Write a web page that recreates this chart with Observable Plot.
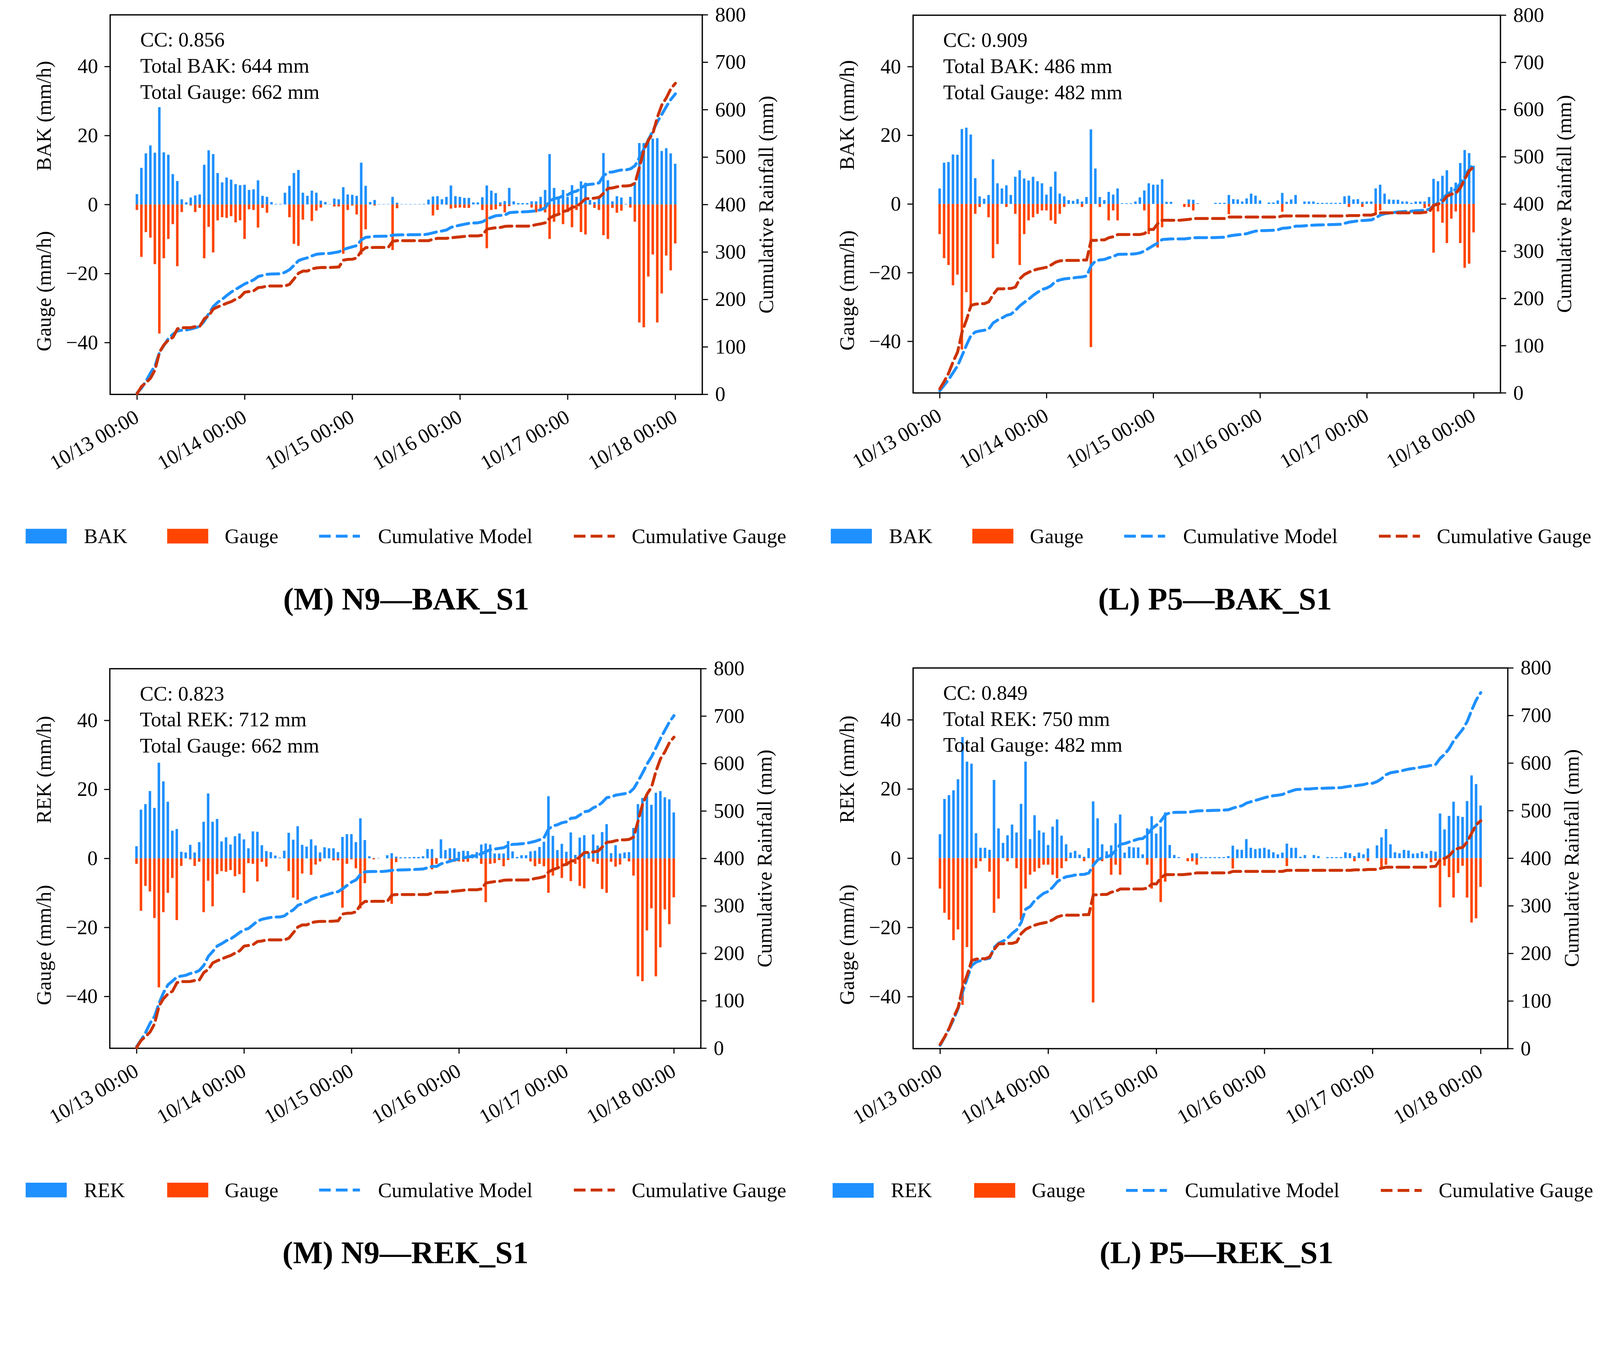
<!DOCTYPE html>
<html>
<head>
<meta charset="utf-8">
<script src="https://cdn.jsdelivr.net/npm/d3@7"></script>
<script src="https://cdn.jsdelivr.net/npm/@observablehq/plot@0.6"></script>
<style>
  html, body { margin: 0; padding: 0; background: #fff; overflow: hidden; }
  #page { width: 4364px; height: 3491px; position: relative; overflow: hidden; transform-origin: 0 0;
          font-family: "Liberation Serif", "DejaVu Serif", serif; color: #000; background: #fff; }
  .abs { position: absolute; white-space: nowrap; }
  .panel { position: absolute; }
  .panel svg { position: absolute; left: 0; top: 0; max-width: none !important; }
</style>
</head>
<body>
<div id="page"></div>
<script>
// ---------------- DATA ----------------
const hours = d3.range(0, 121);                 // hourly steps, 10/13 00:00 .. 10/18 00:00
const dayTicks = [0, 24, 48, 72, 96, 120];
const dayLabels = ["10/13 00:00", "10/14 00:00", "10/15 00:00", "10/16 00:00", "10/17 00:00", "10/18 00:00"];
const leftTicks = [-40, -20, 0, 20, 40];
const rightTicks = [0, 100, 200, 300, 400, 500, 600, 700, 800];

// N9 gauge (mm/h)
const n9Gauge = [
  1.6, 15.2, 8.0, 9.6, 17.3, 37.4, 15.6, 10.0, 5.7, 17.9,
  2.2, 0, 0.3, 2.2, 1.0, 15.6, 6.5, 13.9, 4.6, 3.7,
  3.9, 3.4, 5.2, 4.6, 10.0, 1.4, 1.6, 6.7, 1.0, 2.4,
  0, 0, 0, 0, 3.7, 11.4, 12.0, 4.4, 0, 4.8,
  1.8, 0.9, 0, 0, 0.6, 0.6, 14.3, 1.6, 0.3, 2.9,
  14.5, 7.2, 0, 0.3, 0, 0, 0, 13.2, 1.1, 0,
  0, 0, 0, 0, 0, 0, 3.2, 1.6, 0, 0.1,
  1.2, 1.0, 0.9, 1.0, 1.0, 0, 0, 1.6, 12.7, 1.6,
  1.4, 0.5, 2.3, 0.5, 0, 0, 0, 0, 0.9, 2.3,
  1.6, 2.3, 10.0, 5.0, 3.0, 5.7, 2.2, 6.6, 1.6, 8.0,
  8.7, 0.1, 1.0, 1.6, 8.9, 10.0, 1.0, 2.4, 1.8, 0,
  0.9, 5.0, 34.2, 35.6, 20.9, 14.5, 34.2, 25.8, 14.8, 19.1,
  11.3
];
// N9 BAK (mm/h)
const n9Bak = [
  3.0, 10.6, 14.8, 17.1, 15.0, 28.2, 15.1, 14.4, 8.8, 6.8,
  1.5, 0.6, 2.0, 2.6, 2.9, 11.5, 15.7, 14.6, 9.1, 6.4,
  7.8, 7.2, 5.9, 5.6, 5.7, 4.2, 4.4, 7.0, 2.5, 2.2,
  0.7, 0.15, 0.15, 3.4, 5.4, 9.1, 10.0, 3.4, 2.5, 4.0,
  3.4, 1.1, 0.7, 0.1, 1.7, 1.5, 5.0, 2.9, 2.8, 2.5,
  12.1, 5.4, 0.7, 1.3, 0.1, 0.1, 0.1, 2.2, 0.5, 0.1,
  0.1, 0.1, 0.1, 0.1, 0.15, 1.4, 2.3, 2.4, 1.5, 2.2,
  5.5, 2.4, 2.2, 1.9, 1.9, 0.6, 0.6, 2.1, 5.5, 4.0,
  3.3, 0.6, 1.0, 4.8, 0.9, 0.4, 0.4, 0.4, 0.9, 0.9,
  2.2, 4.2, 14.6, 4.8, 1.6, 4.2, 2.2, 5.6, 2.2, 6.7,
  6.3, 1.3, 0.7, 2.4, 14.9, 7.0, 0.9, 2.4, 2.0, 0.15,
  2.2, 6.5, 17.8, 17.8, 19.2, 19.1, 19.2, 15.5, 16.3, 14.8,
  11.8
];
// N9 REK (mm/h)
const n9Rek = [
  3.5, 14.1, 15.7, 19.5, 14.6, 27.7, 22.3, 16.4, 8.0, 8.5,
  1.9, 1.7, 3.9, 1.7, 4.7, 10.6, 18.8, 10.6, 11.4, 4.9,
  6.1, 4.0, 6.4, 7.2, 5.5, 2.9, 7.8, 7.7, 3.8, 2.1,
  1.8, 0.8, 0.2, 2.2, 7.4, 5.4, 9.3, 3.9, 3.4, 5.5,
  3.7, 1.7, 3.2, 2.9, 2.9, 1.8, 6.2, 7.0, 7.0, 4.7,
  11.6, 5.3, 0.6, 0.1, 0.1, 0, 0.9, 1.5, 0.5, 0.3,
  0.3, 0.3, 0.4, 0.4, 0.6, 2.7, 2.7, 0.1, 5.5, 2.4,
  2.9, 2.9, 1.9, 2.2, 2.1, 1.2, 1.8, 4.0, 4.3, 4.0,
  1.4, 1.4, 1.4, 5.0, 2.0, 0.4, 0.9, 0.9, 2.0, 2.2,
  3.3, 4.8, 18.0, 6.5, 2.4, 4.2, 1.9, 7.5, 1.0, 6.0,
  6.7, 1.7, 6.9, 3.7, 7.6, 9.9, 1.5, 3.8, 1.4, 1.7,
  1.8, 8.8, 15.7, 17.5, 18.6, 15.5, 19.0, 19.5, 17.7, 17.1,
  13.3
];
// P5 gauge (mm/h)
const p5Gauge = [
  8.8, 15.8, 17.8, 23.7, 20.6, 42.4, 25.7, 30.4, 2.9, 0.9,
  0, 3.9, 15.8, 11.7, 0, 0.9, 0, 2.9, 17.8, 8.8,
  4.8, 3.9, 2.9, 1.9, 1.9, 4.8, 5.8, 2.9, 0.9, 0,
  0, 0, 0.9, 0, 41.7, 0, 0.9, 0, 4.8, 1.9,
  4.8, 0, 0, 0, 0, 0, 1.9, 8.8, 0, 12.7,
  6.8, 0, 0, 0, 0, 0.9, 0.9, 1.9, 0, 0,
  0, 0, 0, 0, 0, 3.0, 0, 0, 0, 0,
  0, 0, 0, 0, 0, 0, 0, 2.3, 0, 0,
  0, 0, 0, 0, 0, 0, 0, 0, 0, 0,
  0, 0, 0.9, 0, 0, 0.9, 0, 0, 2.9, 1.9,
  0, 0, 0, 0, 0, 0, 0, 0, 0, 1.2,
  0.8, 14.2, 2.2, 5.5, 11.4, 4.3, 2.2, 11.4, 18.6, 17.4,
  8.3
];
// P5 BAK (mm/h)
const p5Bak = [
  4.5, 12.0, 12.2, 14.4, 14.3, 21.8, 22.2, 20.2, 7.5, 2.2,
  1.5, 2.6, 13.0, 6.0, 4.5, 5.4, 2.6, 7.9, 9.8, 7.4,
  6.8, 7.9, 6.6, 6.0, 2.7, 5.0, 9.4, 3.0, 2.2, 1.1,
  0.9, 1.4, 0.7, 2.0, 21.7, 10.3, 2.0, 1.1, 3.5, 2.7,
  4.5, 0.2, 0.2, 0.2, 0.7, 1.9, 3.9, 6.0, 5.6, 5.6,
  7.2, 0.6, 0.6, 0, 0, 0, 1.3, 1.2, 0.2, 0,
  0, 0, 0.3, 0.3, 0.3, 2.6, 1.4, 1.3, 0.7, 1.6,
  3.0, 2.4, 1.0, 0, 0.4, 0.4, 1.0, 3.2, 0.6, 1.3,
  2.6, 0, 0.7, 0.7, 0.7, 0.3, 0.3, 0.3, 0.3, 0.3,
  0.3, 2.2, 2.4, 1.3, 1.4, 0.6, 0.7, 0.7, 4.5, 5.6,
  3.0, 1.3, 1.2, 1.2, 0.7, 0.7, 0.3, 0.7, 0.7, 0.7,
  2.0, 7.3, 6.6, 8.2, 9.8, 4.9, 6.2, 11.9, 15.7, 14.8,
  11.1
];
// P5 REK (mm/h)
const p5Rek = [
  6.9, 17.1, 18.2, 19.6, 22.8, 35.0, 27.9, 27.3, 7.2, 3.0,
  3.0, 2.4, 22.6, 8.6, 4.4, 6.6, 9.7, 7.4, 15.7, 27.9,
  5.5, 12.4, 8.0, 7.4, 3.8, 9.1, 11.2, 6.5, 4.0, 1.6,
  2.1, 1.0, 0.4, 2.9, 16.4, 11.5, 4.0, 2.0, 3.7, 10.1,
  12.6, 1.6, 3.3, 3.1, 3.1, 1.1, 8.6, 12.1, 7.1, 9.1,
  13.2, 3.8, 0.9, 0.3, 0, 0, 1.4, 1.4, 0.3, 0.3,
  0.3, 0.3, 0.3, 0.3, 0.6, 3.6, 2.5, 2.4, 5.5, 3.0,
  2.6, 2.8, 3.0, 2.5, 1.7, 1.1, 1.6, 4.2, 3.0, 3.0,
  0.4, 0.9, 0, 0.9, 0.6, 0, 0.3, 0.3, 0.3, 0.3,
  1.7, 1.4, 0.6, 1.6, 1.1, 2.8, 0, 3.7, 6.0, 8.4,
  4.0, 1.7, 1.4, 2.4, 2.2, 1.3, 1.4, 1.9, 1.3, 2.1,
  1.9, 12.9, 8.3, 12.2, 16.3, 12.2, 11.9, 16.5, 23.9, 21.4,
  15.2
];

const modelSeries = [n9Bak, p5Bak, n9Rek, p5Rek];
const gaugeSeries = [n9Gauge, p5Gauge, n9Gauge, p5Gauge];
const modelNames = ["BAK", "BAK", "REK", "REK"];
const ccValues = ["0.856", "0.909", "0.823", "0.849"];
const modelTotals = [644, 486, 712, 750];
const gaugeTotals = [662, 482, 662, 482];
const panelTitles = ["(M) N9—BAK_S1", "(L) P5—BAK_S1", "(M) N9—REK_S1", "(L) P5—REK_S1"];
const legendLabels = ["Cumulative Model", "Cumulative Gauge"];

// ---------------- STYLE / LAYOUT ----------------
const FONT = '"Liberation Serif", "DejaVu Serif", serif';
const FS = 56;
const C_MODEL = "#1E90FF", C_GAUGE = "#FF4500", C_CUM_GAUGE = "#CC3300";
const DASH = "32,14", LW = 8;
// plot areas [left, top, right, bottom] in page px
const plotRects = [
  [300, 40, 1915, 1075],
  [2490, 41, 4092, 1071],
  [299, 1823, 1911, 2858],
  [2490, 1821, 4112, 2859]
];
const legendBase = [[70, 1462], [2266, 1462], [70, 3245], [2271, 3246]];
const legendOffsets = [0, 159, 386, 543, 800, 961, 1495, 1653];
const titlePos = [[1108, 1633], [3314, 1633], [1106, 3416], [3318, 3416]];
const M = {left: 300, right: 280, top: 40, bottom: 260};
const page = document.getElementById("page");

function addText(txt, x, y, css) {
  const d = document.createElement("div");
  d.className = "abs";
  d.textContent = txt;
  d.style.left = x + "px";
  d.style.top = y + "px";
  d.style.fontSize = FS + "px";
  Object.assign(d.style, css || {});
  page.appendChild(d);
  return d;
}

function drawPanel(i) {
  const [L, T, R, B] = plotRects[i];
  const W = R - L + M.left + M.right, H = B - T + M.top + M.bottom;
  const model = modelSeries[i], gauge = gaugeSeries[i];
  const rows = hours.map(h => ({h, m: model[h], g: gauge[h]}));
  const cm = d3.cumsum(model), cg = d3.cumsum(gauge);
  const cum = hours.map(h => ({h, cm: cm[h], cg: cg[h]}));

  const holder = document.createElement("div");
  holder.className = "panel";
  holder.style.left = (L - M.left) + "px";
  holder.style.top = (T - M.top) + "px";
  holder.style.width = W + "px";
  holder.style.height = H + "px";
  page.appendChild(holder);

  const common = {
    width: W, height: H,
    marginLeft: M.left, marginRight: M.right, marginTop: M.top, marginBottom: M.bottom,
    style: {background: "transparent", fontFamily: FONT, fontSize: FS + "px", color: "black", overflow: "visible"}
  };
  const stats = `CC: ${ccValues[i]}\nTotal ${modelNames[i]}: ${modelTotals[i]} mm\nTotal Gauge: ${gaugeTotals[i]} mm`;

  const bars = Plot.plot({
    ...common,
    x: {type: "linear", domain: [-6, 126]},
    y: {domain: [-55, 55]},
    marks: [
      Plot.rect(rows, {x1: d => d.h - 0.28, x2: d => d.h + 0.28, y1: () => 0, y2: d => d.m, fill: C_MODEL}),
      Plot.rect(rows, {x1: d => d.h - 0.28, x2: d => d.h + 0.28, y1: () => 0, y2: d => -d.g, fill: C_GAUGE}),
      Plot.axisY(leftTicks, {anchor: "left", tickSize: 15, tickPadding: 18, strokeWidth: 3, fontSize: FS, label: null}),
      Plot.axisX(dayTicks, {anchor: "bottom", tickSize: 15, tickPadding: 42, strokeWidth: 3, fontSize: FS,
        tickRotate: -30, label: null, tickFormat: d => dayLabels[dayTicks.indexOf(d)]}),
      Plot.frame({stroke: "black", strokeWidth: 3.5}),
      Plot.text([stats], {text: d => d, frameAnchor: "top-left", dx: 82, dy: 36, lineAnchor: "top",
        textAnchor: "start", fontSize: FS, lineHeight: 1.27, fill: "black"})
    ]
  });
  holder.appendChild(bars);

  const lines = Plot.plot({
    ...common,
    x: {type: "linear", domain: [-6, 126], axis: null},
    y: {domain: [0, 800]},
    marks: [
      Plot.line(cum, {x: "h", y: "cm", stroke: C_MODEL, strokeWidth: LW, strokeDasharray: DASH}),
      Plot.line(cum, {x: "h", y: "cg", stroke: C_CUM_GAUGE, strokeWidth: LW, strokeDasharray: DASH}),
      Plot.axisY(rightTicks, {anchor: "right", tickSize: 15, tickPadding: 20, strokeWidth: 3, fontSize: FS, label: null})
    ]
  });
  holder.appendChild(lines);

  // axis titles
  const zeroY = (T + B) / 2;
  const rot = {transform: "translate(-50%, -50%) rotate(-90deg)"};
  addText(`${modelNames[i]} (mm/h)`, L - 180, zeroY - 242, rot);
  addText("Gauge (mm/h)", L - 180, zeroY + 236, rot);
  addText("Cumulative Rainfall (mm)", R + 174, zeroY, rot);

  // legend
  const [lx, ly] = legendBase[i];
  const o = legendOffsets;
  const patch = (x, color) => {
    const p = document.createElement("div");
    p.className = "abs";
    Object.assign(p.style, {left: (lx + x) + "px", top: (ly - 20) + "px", width: "112px", height: "40px", background: color});
    page.appendChild(p);
  };
  const dash = (x, color) => {
    const ns = "http://www.w3.org/2000/svg";
    const s = document.createElementNS(ns, "svg");
    s.setAttribute("width", 112); s.setAttribute("height", 20);
    s.style.position = "absolute"; s.style.left = (lx + x) + "px"; s.style.top = (ly - 10) + "px";
    const ln = document.createElementNS(ns, "line");
    ln.setAttribute("x1", 0); ln.setAttribute("x2", 112); ln.setAttribute("y1", 10); ln.setAttribute("y2", 10);
    ln.setAttribute("stroke", color); ln.setAttribute("stroke-width", LW); ln.setAttribute("stroke-dasharray", DASH);
    s.appendChild(ln);
    page.appendChild(s);
  };
  const label = (x, txt) => addText(txt, lx + x, ly, {transform: "translateY(-50%)", lineHeight: "1"});
  patch(o[0], C_MODEL); label(o[1], modelNames[i]);
  patch(o[2], C_GAUGE); label(o[3], "Gauge");
  dash(o[4], C_MODEL); label(o[5], legendLabels[0]);
  dash(o[6], C_CUM_GAUGE); label(o[7], legendLabels[1]);

  // panel title
  const [tx, ty] = titlePos[i];
  addText(panelTitles[i], tx, ty, {transform: "translate(-50%, -50%)", fontWeight: "bold", fontSize: "86px", lineHeight: "1"});
}

[0, 1, 2, 3].forEach(drawPanel);

// fit the 4364 x 3491 composition to the actual viewport
const k = Math.min(window.innerWidth / 4364, window.innerHeight / 3491);
if (isFinite(k) && k > 0 && Math.abs(k - 1) > 0.002) page.style.transform = `scale(${k})`;
</script>
</body>
</html>
